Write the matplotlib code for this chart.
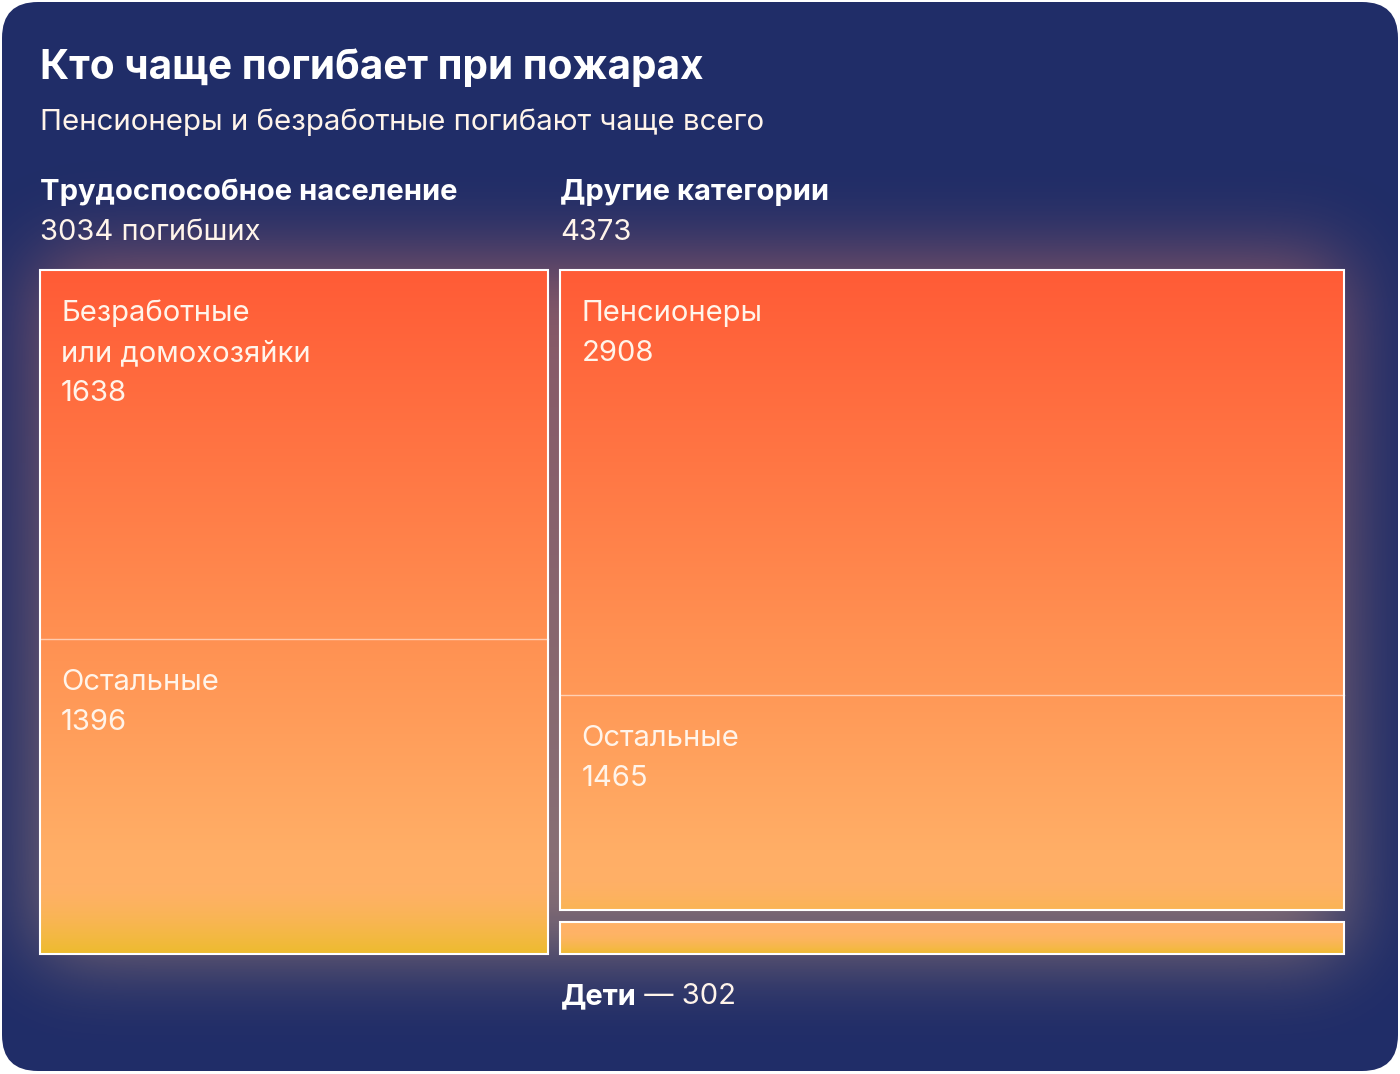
import numpy as np
import matplotlib
matplotlib.use("Agg")
import matplotlib.pyplot as plt
from matplotlib.patches import FancyBboxPatch, Rectangle
from matplotlib.colors import to_rgb

plt.rcParams['font.family'] = ['Inter', 'DejaVu Sans']

# data ------------------------------------------------------------------
title = "Кто чаще погибает при пожарах"
subtitle = "Пенсионеры и безработные погибают чаще всего"

group_names = ["Трудоспособное население", "Другие категории"]
group_notes = ["3034 погибших", "4373"]

work_labels = ["Безработные\nили домохозяйки", "Остальные"]
work_values = [1638, 1396]

other_labels = ["Пенсионеры", "Остальные"]
other_values = [2908, 1465]

kids_label = "Дети"
kids_value = 302

# style -------------------------------------------------------------------
W, H = 1400, 1074
navy = np.array(to_rgb("#202d68"))
cream = "#fff4ea"
yellow = np.array(to_rgb("#ecbc2a"))
grad_stops_y = [270, 450, 640, 850, 954]
grad_stops_c = ["#ff5b36", "#ff7443", "#ff9152", "#ffae66", "#ffb467"]

# treemap frame in pixels
X0, X1, Y0, Y1 = 40, 1344, 270, 954
GAP = 12

fig = plt.figure(figsize=(W / 100, H / 100), dpi=100)
fig.patch.set_facecolor("white")
ax = fig.add_axes([0, 0, 1, 1])
ax.set_xlim(0, W)
ax.set_ylim(H, 0)
ax.axis("off")

card = FancyBboxPatch((2, 2), W - 4, H - 5, boxstyle="round,pad=0,rounding_size=36",
                      facecolor=navy, edgecolor="none", zorder=0)
ax.add_patch(card)

# gradient colour per row
rows = np.arange(H) + 0.5
cols = np.array([to_rgb(c) for c in grad_stops_c])
grad = np.stack([np.interp(np.clip(rows, Y0, Y1), grad_stops_y, cols[:, k]) for k in range(3)], axis=1)


def blur_profile(n, a, b, sigma):
    x = np.arange(n) + 0.5
    ind = ((x >= a) & (x <= b)).astype(float)
    k = np.arange(-4 * sigma, 4 * sigma + 1)
    g = np.exp(-0.5 * (k / sigma) ** 2)
    g /= g.sum()
    return np.convolve(ind, g, mode="same")


# glow behind the treemap
fy = blur_profile(H, Y0 - 12, Y1, 40)
fx = blur_profile(W, X0, X1, 40)
mask = np.outer(fy, fx)
glow_rgb = 0.5 * grad + 0.5 * np.array(to_rgb("#b89a98"))
glow = np.zeros((H, W, 4))
glow[..., :3] = glow_rgb[:, None, :]
glow[..., 3] = 0.56 * mask
im = ax.imshow(glow, extent=(0, W, H, 0), zorder=1, interpolation="bilinear")
im.set_clip_path(card)


def fill_rect(x, y, w, h, band, band_alpha, edge=True):
    r = Rectangle((x, y), w, h, facecolor="none", edgecolor="none")
    ax.add_patch(r)
    img = grad.copy()
    t = np.clip((rows - (y + h - band)) / band, 0, 1) ** 1.6 * band_alpha
    img = img * (1 - t[:, None]) + yellow * t[:, None]
    g = ax.imshow(np.repeat(img[:, None, :], 4, axis=1), extent=(0, W, H, 0), zorder=2,
                  aspect="auto", interpolation="bilinear")
    g.set_clip_path(r)
    if edge:
        ax.add_patch(Rectangle((x, y), w, h, facecolor="none", edgecolor="white", lw=1.5, zorder=4))


# layout: columns proportional to totals (kids are part of the right column)
right_total = sum(other_values) + kids_value
totals = [sum(work_values), right_total]
avail = (X1 - X0) - GAP
lw_ = avail * totals[0] / sum(totals)
col_x = [X0, X0 + lw_ + GAP]
col_w = [lw_, avail - lw_]
hgt = Y1 - Y0
lab_font = 21

# left column
y = Y0
for i_box, (lab, v) in enumerate(zip(work_labels, work_values)):
    h = hgt * v / totals[0]
    last = i_box == len(work_values) - 1
    fill_rect(col_x[0], y, col_w[0], h, 70, 0.95 if last else 0.0, edge=False)
    lines = lab.split("\n") + [str(v)]
    for i, t in enumerate(lines):
        ax.text(col_x[0] + 21, y + 51 + 40 * i, t, color=cream, fontsize=lab_font,
                va="baseline", ha="left", zorder=5)
    y += h
    if not last:
        ax.plot([col_x[0], col_x[0] + col_w[0]], [y, y], color="white", lw=1, alpha=0.55, zorder=4)
ax.add_patch(Rectangle((col_x[0], Y0), col_w[0], hgt, facecolor="none", edgecolor="white", lw=1.5, zorder=4))

# right column
y = Y0
for i_box, (lab, v) in enumerate(zip(other_labels, other_values)):
    h = hgt * v / right_total
    last = i_box == len(other_values) - 1
    fill_rect(col_x[1], y, col_w[1], h, 30, 0.3 if last else 0.0, edge=False)
    for i, t in enumerate([lab, str(v)]):
        ax.text(col_x[1] + 21, y + 51 + 40 * i, t, color=cream, fontsize=lab_font,
                va="baseline", ha="left", zorder=5)
    y += h
    if not last:
        ax.plot([col_x[1], col_x[1] + col_w[1]], [y, y], color="white", lw=1, alpha=0.55, zorder=4)
ax.add_patch(Rectangle((col_x[1], Y0), col_w[1], y - Y0, facecolor="none", edgecolor="white", lw=1.5, zorder=4))
kh = hgt * kids_value / right_total
fill_rect(col_x[1], y + GAP, col_w[1], kh - GAP, 22, 0.9)

# texts
ax.text(40, 79, title, color="white", fontsize=29.2, fontweight="bold", va="baseline")
ax.text(40, 130, subtitle, color=cream, fontsize=21.2, va="baseline")
for cx, name, note in zip(col_x, group_names, group_notes):
    ax.text(cx, 200, name, color="white", fontsize=21, fontweight="bold", va="baseline")
    ax.text(cx, 240, note, color=cream, fontsize=21, va="baseline")
t = ax.text(col_x[1], 1004, kids_label, color="white", fontsize=21, fontweight="bold", va="baseline")
ax.annotate(" — " + str(kids_value), xycoords=t, xy=(1, 0), va="bottom", color=cream, fontsize=21)

fig.savefig("out.png", dpi=100, facecolor="white")
